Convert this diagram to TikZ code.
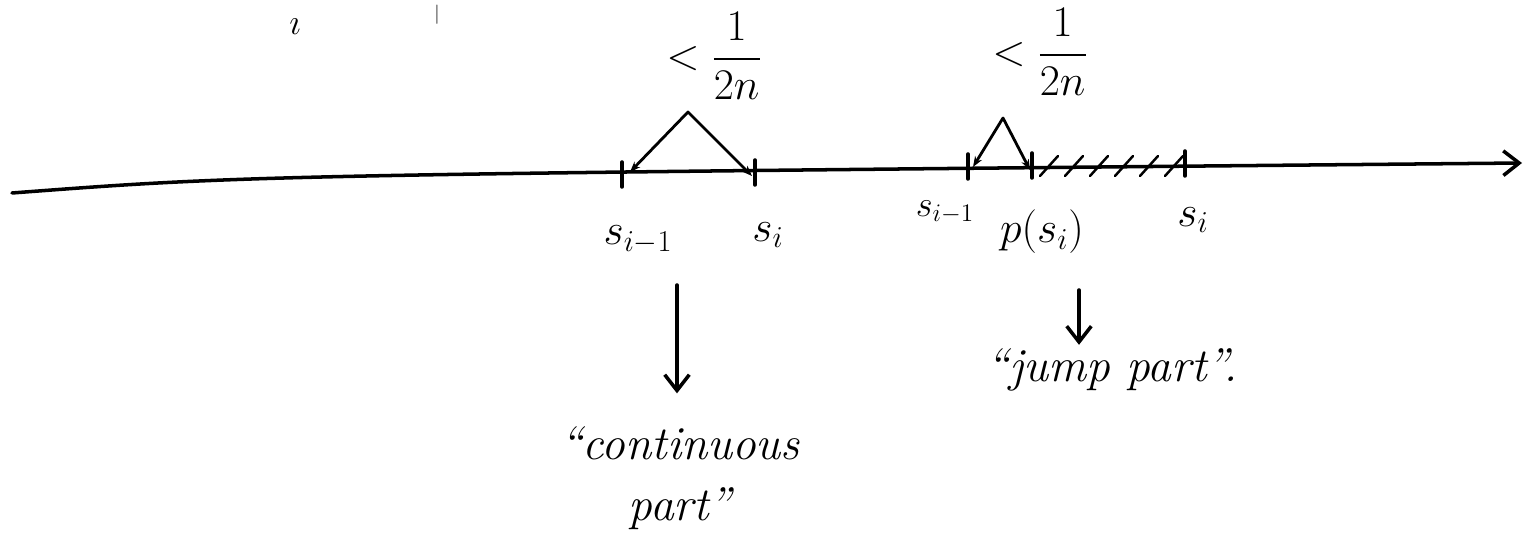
\documentclass[tikz,border=0pt]{standalone}
\usepackage{amsmath}
\usetikzlibrary{arrows.meta, positioning}

\begin{document}
\begin{tikzpicture}[x=0.02cm, y=-0.02cm, line cap=round, line join=round,
  pen/.style={line width=2pt},
  arr/.style={pen, -{Straight Barb[length=9pt, width=14pt]}},
  brk/.style={line width=1.6pt, {Stealth[length=6pt]}-{Stealth[length=6pt]}},
  hatch/.style={line width=1.4pt},
  lbl/.style={font=\fontsize{27}{30}\selectfont, inner sep=0pt},
  small/.style={font=\fontsize{20}{24}\selectfont, inner sep=0pt},
  frc/.style={font=\fontsize{25}{28}\selectfont, inner sep=0pt},
  txt/.style={font=\fontsize{27}{31}\selectfont\itshape, align=center, inner sep=0pt}
]
\useasboundingbox (0,0) rectangle (1526,553);

% marks from the line above
\node[small] (cut1) at (295,27) {$\imath$};
\node[font=\fontsize{11}{12}\selectfont, inner sep=0pt] (cut2) at (437,15) {$|$};

% the axis
\coordinate (xl) at (12,193);
\coordinate (xr) at (1522,163);
\draw[pen, -{Straight Barb[length=9pt, width=14pt]}] (xl) .. controls (250,175) .. (xr);

% tick points
\coordinate (t1) at (622,175);
\coordinate (t2) at (755,173);
\coordinate (t3) at (968,167);
\coordinate (t4) at (1032,166);
\coordinate (t5) at (1185,164);
\foreach \t in {t1,t2,t3,t4,t5}
  \draw[pen] (\t) ++(0,-13) -- ++(0,25);

% continuous part (left)
\coordinate (bL1) at (630,172);
\coordinate (apL) at (688,112);
\coordinate (bL2) at (752,176);
\draw[brk] (bL1) -- (apL) -- (bL2);
\node[frc] (gapL) at (714,56) {$<\dfrac{1}{2n}$};

\node[lbl] (sprevL) at (638,240) {$s_{i-1}$};
\node[lbl] (scurL)  at (768,235) {$s_i$};

% jump part (right)
\coordinate (bR1) at (973,167);
\coordinate (apR) at (1003,118);
\coordinate (bR2) at (1030,170);
\draw[brk] (bR1) -- (apR) -- (bR2);
\node[frc] (gapR) at (1040,52) {$<\dfrac{1}{2n}$};

\foreach \x in {1040,1065,...,1165}
  \draw[hatch] (\x,176) -- ++(18,-20);

\node[small] (sprevR) at (945,212) {$s_{i-1}$};
\node[lbl]   (psR)    at (1042,232) {$p(s_i)$};
\node[lbl]   (scurR)  at (1193,220) {$s_i$};

% the two parts
\node[txt] (cont) at (680,478) {``continuous\\[4pt]part''};
\node[txt] (jump) at (1112,370) {``jump part''.};

\coordinate (ctop) at (677,285);
\coordinate (jtop) at (1079,290);
\draw[arr, shorten >=0.65cm] (ctop) -- (ctop |- cont.north);
\draw[arr, shorten >=2pt] (jtop) -- (jtop |- jump.north);

\end{tikzpicture}
\end{document}
